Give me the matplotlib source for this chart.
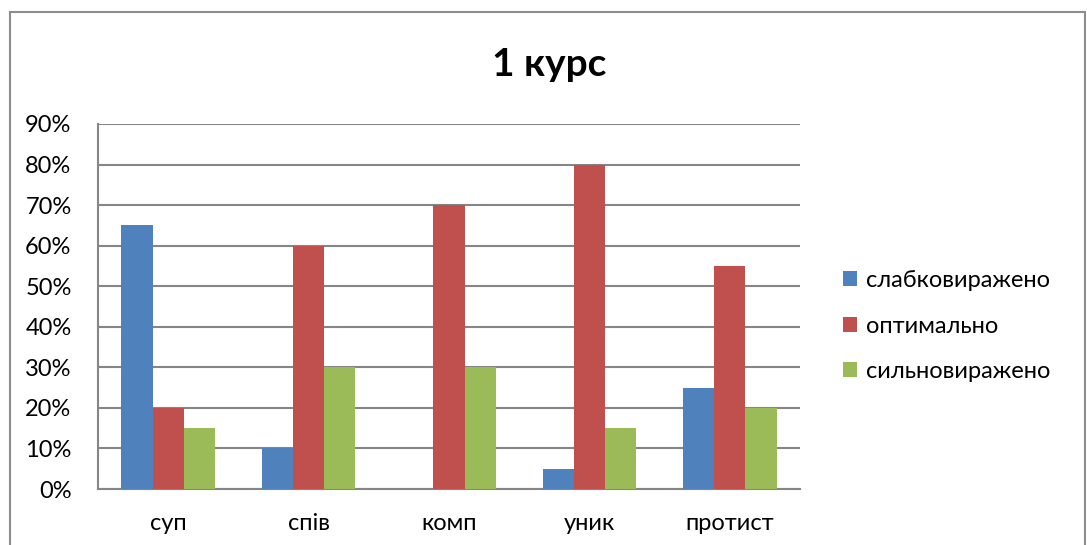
import matplotlib.pyplot as plt
from matplotlib.patches import Rectangle
import numpy as np

plt.rcParams['font.family'] = ['Lato', 'DejaVu Sans']

categories = ['суп', 'спів', 'комп', 'уник', 'протист']
series_names = ['слабковиражено', 'оптимально', 'сильновиражено']
weak = [65, 10, 0, 5, 25]
optimal = [20, 60, 70, 80, 55]
strong = [15, 30, 30, 15, 20]
colors = ['#4F81BD', '#C0504D', '#9BBB59']

W, H = 1087, 545
fig = plt.figure(figsize=(W / 100, H / 100), dpi=100)

# outer chart frame (cropped at right/bottom)
fig.patches.append(Rectangle((10 / W, -0.05), (1085 - 10) / W, 1.05 - 12 / H,
                             transform=fig.transFigure, fill=False,
                             edgecolor='#8C8C8C', linewidth=1.5))

ax = fig.add_axes([98 / W, (H - 489) / H, (800 - 98) / W, (489 - 124) / H])

x = np.arange(len(categories))
bw = 0.222
for i, (vals, name) in enumerate(zip([weak, optimal, strong], series_names)):
    ax.bar(x + (i - 1) * bw, vals, width=bw, color=colors[i], label=name, zorder=3)

ax.set_xlim(-0.5, len(categories) - 0.5)
ax.set_ylim(0, 90)
ax.set_yticks(range(0, 91, 10))
ax.set_yticklabels([f'{v}%' for v in range(0, 91, 10)], fontsize=17)
ax.set_xticks(x)
ax.set_xticklabels(categories, fontsize=17)
ax.tick_params(axis='both', length=0)
ax.tick_params(axis='y', pad=19)
ax.tick_params(axis='x', pad=17)
ax.grid(axis='y', color='#868686', linewidth=1.5, zorder=0)
for s in ['top', 'right']:
    ax.spines[s].set_visible(False)
for s in ['left', 'bottom']:
    ax.spines[s].set_color('#868686')
    ax.spines[s].set_linewidth(1.5)

fig.text(549 / W, 1 - 65 / H, '1 курс', ha='center', va='center',
         fontsize=28, fontweight='bold')

leg = fig.legend(loc='center left', bbox_to_anchor=(822 / W, 1 - 326 / H),
                 frameon=False, fontsize=17, handlelength=0.6, handleheight=0.6,
                 handletextpad=0.35, labelspacing=1.05)

fig.savefig('out.png', dpi=100)
